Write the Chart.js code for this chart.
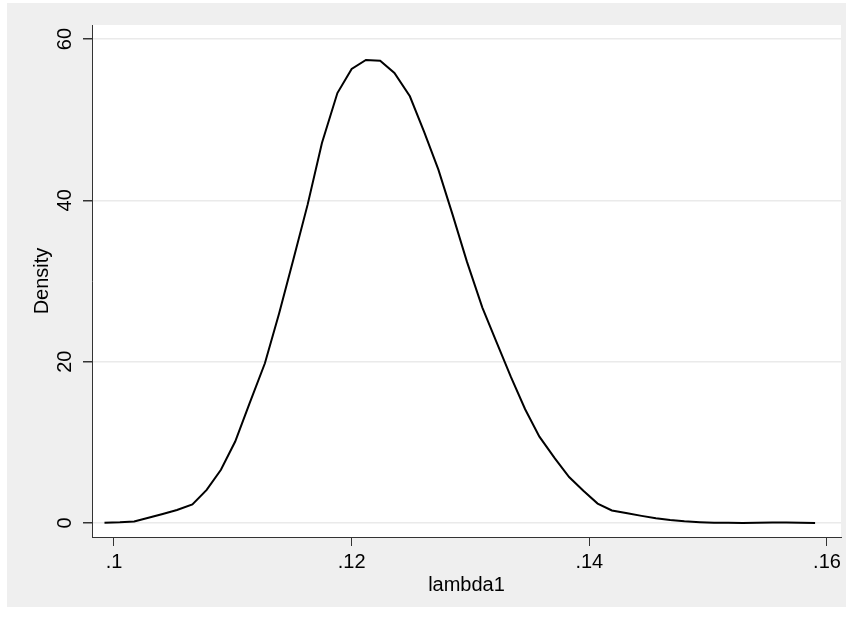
<!DOCTYPE html>
<html>
<head>
<meta charset="utf-8">
<script src="https://cdn.jsdelivr.net/npm/chart.js@4/dist/chart.umd.min.js"></script>
<style>
  html, body { margin: 0; padding: 0; background: #fff; }
  #wrap { width: 853px; height: 620px; position: relative; }
</style>
</head>
<body>
<div id="wrap"><canvas id="c"></canvas></div>
<script>
// ── DATA ──
const lambdaVals = [0.0992, 0.1005, 0.1017, 0.1029, 0.1041, 0.1053, 0.1066, 0.1078, 0.1090, 0.1102,
  0.1114, 0.1127, 0.1139, 0.1151, 0.1163, 0.1175, 0.1188, 0.1200, 0.1212, 0.1224,
  0.1236, 0.1249, 0.1261, 0.1273, 0.1285, 0.1297, 0.1310, 0.1322, 0.1334, 0.1346,
  0.1358, 0.1371, 0.1383, 0.1395, 0.1407, 0.1419, 0.1432, 0.1444, 0.1456, 0.1468,
  0.1480, 0.1493, 0.1505, 0.1517, 0.1529, 0.1541, 0.1554, 0.1566, 0.1578, 0.1590];
const densityVals = [0.02, 0.08, 0.18, 0.65, 1.12, 1.6, 2.3, 4.1, 6.6, 10.1,
  14.8, 19.8, 26.0, 32.7, 39.5, 47.1, 53.3, 56.3, 57.4, 57.3,
  55.8, 52.9, 48.5, 43.8, 38.2, 32.4, 26.7, 22.4, 18.1, 14.1,
  10.7, 8.0, 5.7, 4.0, 2.4, 1.55, 1.2, 0.88, 0.58, 0.36,
  0.2, 0.1, 0.03, 0.02, 0.0, 0.04, 0.05, 0.05, 0.04, 0.01];
const xTicks = [0.10, 0.12, 0.14, 0.16];
const yTicks = [0, 20, 40, 60];

const FONT = 'Liberation Sans, Arial, sans-serif';

// ── BACKGROUND ──
const stataBg = {
  id: 'stataBg',
  beforeDraw(chart) {
    const { ctx, chartArea: a } = chart;
    ctx.save();
    ctx.fillStyle = '#efefef';
    ctx.fillRect(7, 3, 839, 604);
    ctx.fillStyle = '#ffffff';
    ctx.fillRect(a.left, a.top, a.right - a.left, a.bottom - a.top);
    ctx.restore();
  }
};

const fmtX = v => String(Math.round(v * 100) / 100).replace(/^0/, '');

new Chart(document.getElementById('c'), {
  type: 'line',
  data: {
    datasets: [{
      data: lambdaVals.map((x, i) => ({ x, y: densityVals[i] })),
      borderColor: '#000', borderWidth: 2, pointRadius: 0, tension: 0, fill: false
    }]
  },
  options: {
    responsive: true, maintainAspectRatio: false, animation: false,
    layout: { padding: { left: 0, right: 12, top: 25, bottom: 0 } },
    plugins: { legend: { display: false }, tooltip: { enabled: false } },
    scales: {
      x: {
        type: 'linear', min: 0.09815, max: 0.16118,
        afterBuildTicks: s => { s.ticks = xTicks.map(v => ({ value: v })); },
        afterFit: s => { s.height = 83; },
        grid: { drawOnChartArea: false, tickLength: 9, tickColor: '#333', color: '#333' },
        border: { display: true, color: '#333', width: 1 },
        ticks: { color: '#000', padding: 4, font: { family: FONT, size: 20 }, maxRotation: 0,
          callback: v => fmtX(v) },
        title: { display: true, text: 'lambda1', color: '#000', font: { family: FONT, size: 20 }, padding: { top: 0, bottom: 23 } }
      },
      y: {
        min: -1.74, max: 61.74,
        afterBuildTicks: s => { s.ticks = yTicks.map(v => ({ value: v })); },
        afterFit: s => { s.width = 92; },
        grid: { color: '#eaeaea', lineWidth: 1.5, tickLength: 9, tickColor: '#333' },
        border: { display: true, color: '#333', width: 1 },
        ticks: { color: '#000', padding: 6, crossAlign: 'center', font: { family: FONT, size: 20 }, minRotation: 90, maxRotation: 90 },
        title: { display: true, text: 'Density', color: '#000', font: { family: FONT, size: 20 }, padding: { top: 30, bottom: 0 } }
      }
    }
  },
  plugins: [stataBg]
});
</script>
</body>
</html>
